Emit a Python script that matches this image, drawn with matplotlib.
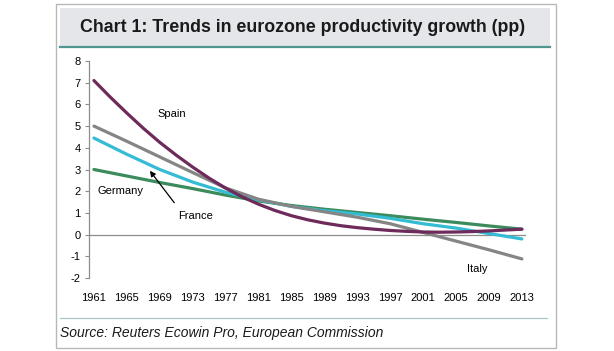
import matplotlib
matplotlib.use("Agg")
import matplotlib.pyplot as plt
from matplotlib.patches import Rectangle
from matplotlib.lines import Line2D

plt.rcParams['font.family'] = ['Liberation Sans', 'DejaVu Sans']

years = [1961, 1965, 1969, 1973, 1977, 1981, 1985, 1989, 1993, 1997, 2001, 2005, 2009, 2013]
spain_years = list(range(1961, 2014, 2))
spain = [7.1, 6.33, 5.6, 4.9, 4.25, 3.66, 3.11, 2.6, 2.14, 1.74, 1.4, 1.11, 0.87, 0.68,
         0.53, 0.41, 0.32, 0.25, 0.19, 0.15, 0.12, 0.11, 0.12, 0.14, 0.17, 0.21, 0.25]
italy = [5.0, 4.3, 3.58, 2.86, 2.15, 1.63, 1.3, 1.05, 0.8, 0.5, 0.1, -0.3, -0.7, -1.12]
france = [4.45, 3.7, 3.0, 2.42, 1.95, 1.6, 1.3, 1.1, 0.95, 0.75, 0.5, 0.3, 0.05, -0.2]
germany = [3.0, 2.7, 2.4, 2.12, 1.82, 1.55, 1.34, 1.17, 1.02, 0.87, 0.71, 0.56, 0.4, 0.25]
yticks = list(range(-2, 9))

W, H = 614, 351
fig = plt.figure(figsize=(W / 100, H / 100), dpi=100)

def fx(px):
    return px / W

def fy(py):
    return 1 - py / H

# outer frame
fig.patches.append(Rectangle((fx(56), fy(348)), fx(556) - fx(56), fy(4) - fy(348),
                             transform=fig.transFigure, fill=False, edgecolor='#b8b8b8', lw=1.0))
# title band
fig.patches.append(Rectangle((fx(60), fy(46)), fx(550) - fx(60), fy(8) - fy(46),
                             transform=fig.transFigure, facecolor='#e4e6e9', edgecolor='none'))
fig.lines.append(Line2D([fx(60), fx(550)], [fy(46.5), fy(46.5)], transform=fig.transFigure,
                        color='#4f9690', lw=1.6))
fig.text(fx(303), fy(27), 'Chart 1: Trends in eurozone productivity growth (pp)',
         ha='center', va='center', fontsize=12.8, fontweight='bold', color='#1a1a1a')
# source line
fig.lines.append(Line2D([fx(60), fx(547)], [fy(318), fy(318)], transform=fig.transFigure,
                        color='#a9c4cc', lw=0.9))
fig.text(fx(60), fy(333), 'Source: Reuters Ecowin Pro, European Commission',
         ha='left', va='center', fontsize=10, style='italic', color='#1a1a1a')

ax = fig.add_axes([fx(89), fy(278), fx(526) - fx(89), fy(61) - fy(278)])
ax.set_xlim(1960.4, 2013.5)
ax.set_ylim(-2, 8)

lw = 2.3
ax.plot(years, germany, color='#3b8b5c', lw=lw, solid_capstyle='round')
ax.plot(years, france, color='#33bcd3', lw=lw, solid_capstyle='round')
ax.plot(years, italy, color='#858585', lw=lw, solid_capstyle='round')
ax.plot(spain_years, spain, color='#6d2a5a', lw=lw, solid_capstyle='round')
ax.axhline(0, color='#8c8c8c', lw=0.9, zorder=1)

for s in ['top', 'right', 'bottom']:
    ax.spines[s].set_visible(False)
ax.spines['left'].set_color('#8c8c8c')
ax.spines['left'].set_linewidth(0.9)

ax.set_yticks(yticks)
ax.set_yticklabels([str(v) for v in yticks])
ax.set_xticks(years)
ax.set_xticklabels([str(y) for y in years])
ax.tick_params(axis='y', length=3, width=0.8, color='#8c8c8c', labelsize=8, pad=3)
ax.tick_params(axis='x', length=0, labelsize=8, pad=11)

ax.text(1970.4, 5.55, 'Spain', fontsize=8, ha='center', va='center')
ax.text(1964.2, 2.02, 'Germany', fontsize=8, ha='center', va='center')
ax.text(1973.4, 0.87, 'France', fontsize=8, ha='center', va='center')
ax.text(2007.6, -1.6, 'Italy', fontsize=8, ha='center', va='center')
ax.annotate('', xy=(1967.8, 2.94), xytext=(1970.76, 1.47),
            arrowprops=dict(arrowstyle='-|>', color='black', lw=0.9,
                            mutation_scale=8, shrinkA=0, shrinkB=0))

fig.savefig('out.png', dpi=100)
